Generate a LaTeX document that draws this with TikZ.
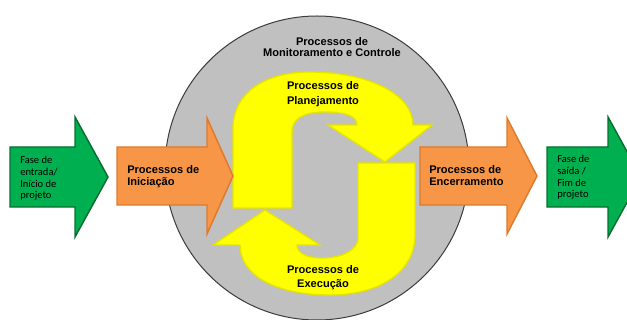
\documentclass[tikz,border=0pt]{standalone}
\usepackage{amsmath}
\usepackage{fontspec}
\setmainfont{Liberation Sans}
\newfontfamily\smallfont{Carlito}

\begin{document}
\begin{tikzpicture}[x=0.75pt,y=0.75pt,yscale=-1,xscale=1,
  greenarrow/.style={draw={rgb, 255:red, 8; green, 110; blue, 45 }, fill={rgb, 255:red, 0; green, 176; blue, 80 }, line width=1.1},
  orangearrow/.style={draw={rgb, 255:red, 222; green, 122; blue, 45 }, fill={rgb, 255:red, 247; green, 150; blue, 70 }, line width=1.1},
  yellowarrow/.style={draw={rgb, 255:red, 228; green, 228; blue, 0 }, fill={rgb, 255:red, 255; green, 255; blue, 0 }, line width=1},
  boldlabel/.style={inner sep=0.75pt, font=\fontsize{8.3}{9.5}\selectfont\bfseries},
  phaselabel/.style={anchor=north west, inner sep=0.75pt, align=left, font=\smallfont\fontsize{7.9}{8.8}\selectfont}]
\useasboundingbox (0,0) rectangle (627,320);

%Shape: Circle [monitoring]
\draw [color={rgb, 255:red, 60; green, 60; blue, 60 }, fill={rgb, 255:red, 192; green, 192; blue, 192 }, line width=0.75] (317,168) circle [x radius=152, y radius=152];

%Shape: U-turn arrow [planning]
\draw [yellowarrow] (233,208) -- (233,128) .. controls (233,95) and (262,72) .. (310,72) .. controls (370,72) and (413,95) .. (413,125) -- (432,125) -- (385,162) -- (328,125) -- (357,125) .. controls (357,116) and (345,112) .. (325,112) .. controls (305,112) and (292,118) .. (292,132) -- (292,208) -- cycle ;
%Shape: U-turn arrow [execution]
\draw [yellowarrow] (415,163) -- (415,235) .. controls (415,272) and (380,295) .. (330,295) .. controls (275,295) and (240,275) .. (240,245) -- (213,245) -- (265,210) -- (320,245) -- (297,245) .. controls (297,252) and (305,258) .. (322,258) .. controls (342,258) and (358,250) .. (358,238) -- (358,163) -- cycle ;

%Shape: Right Arrow [initiation]
\draw [orangearrow] (117,147) -- (207,147) -- (207,118) -- (233,176) -- (207,234) -- (207,205) -- (117,205) -- cycle ;
%Shape: Right Arrow [closing]
\draw [orangearrow] (420,147) -- (507,147) -- (507,118) -- (537,176) -- (507,234) -- (507,205) -- (420,205) -- cycle ;
%Shape: Right Arrow [entry]
\draw [greenarrow] (10,147) -- (75,147) -- (75,117) -- (108,177) -- (75,237) -- (75,207) -- (10,207) -- cycle ;
%Shape: Right Arrow [exit]
\draw [greenarrow] (547,147) -- (608,147) -- (608,117) -- (641,177) -- (608,237) -- (608,207) -- (547,207) -- cycle ;

% Text Node
\node (monitor) [boldlabel, anchor=north, align=center, font=\fontsize{8.3}{8.4}\selectfont\bfseries] at (332,36) {Processos de\\Monitoramento e Controle};
% Text Node
\node (planning) [boldlabel, anchor=north, align=center, font=\fontsize{8.3}{11.2}\selectfont\bfseries] at (323,80) {Processos de\\Planejamento};
% Text Node
\node (execution) [boldlabel, anchor=north, align=center, font=\fontsize{8.3}{10.8}\selectfont\bfseries] at (323,264) {Processos de\\Execução};
% Text Node
\node (initiation) [boldlabel, anchor=north west, align=left] at (126,164) {Processos de\\Iniciação};
% Text Node
\node (closing) [boldlabel, anchor=north west, align=left] at (428,164) {Processos de\\Encerramento};
% Text Node
\node (entry) [phaselabel] at (19,155) {Fase de\\entrada/\\Início de\\projeto};
% Text Node
\node (exit) [phaselabel] at (556,154) {Fase de\\saída /\\Fim de\\projeto};

\end{tikzpicture}
\end{document}
